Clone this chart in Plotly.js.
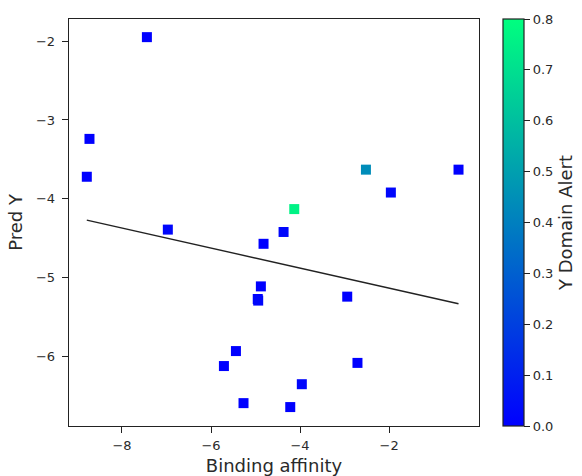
<!DOCTYPE html>
<html>
<head>
<meta charset="utf-8">
<script src="https://cdn.plot.ly/plotly-3.0.1.min.js"></script>
<style>html,body{margin:0;padding:0;background:#fff;}#chart{width:582px;height:476px;}</style>
</head>
<body>
<div id="chart"></div>
<script>
// Data
const bindingAffinity = [-7.44, -8.73, -8.79, -6.97, -4.13, -4.37, -4.82, -4.88, -4.95, -4.94, -5.44, -5.71, -5.27, -4.22, -3.96, -2.94, -2.71, -2.52, -1.96, -0.44];
const predY = [-1.95, -3.24, -3.72, -4.39, -4.13, -4.42, -4.57, -5.11, -5.27, -5.29, -5.93, -6.12, -6.59, -6.64, -6.35, -5.24, -6.08, -3.63, -3.92, -3.63];
const domainAlert = [0.0, 0.0, 0.0, 0.02, 0.76, 0.02, 0.0, 0.0, 0.0, 0.02, 0.0, 0.0, 0.0, 0.0, 0.02, 0.0, 0.0, 0.44, 0.02, 0.0];
const fitX = [-8.79, -0.44];
const fitY = [-4.27, -5.33];
const cbTicks = [0.0, 0.1, 0.2, 0.3, 0.4, 0.5, 0.6, 0.7, 0.8];
const cbTickText = ["0.0", "0.1", "0.2", "0.3", "0.4", "0.5", "0.6", "0.7", "0.8"];
const xTicks = [-8, -6, -4, -2];
const yTicks = [-6, -5, -4, -3, -2];

const font = {family: "DejaVu Sans, sans-serif", size: 13, color: "#2a2a2a"};
const labelFont = {family: "DejaVu Sans, sans-serif", size: 18, color: "#2a2a2a"};

const traces = [
  {
    x: fitX, y: fitY, type: "scatter", mode: "lines",
    line: {color: "#222222", width: 1.4}, hoverinfo: "skip", showlegend: false
  },
  {
    x: bindingAffinity, y: predY, type: "scatter", mode: "markers", showlegend: false,
    marker: {
      symbol: "square", size: 10, color: domainAlert,
      cmin: 0, cmax: 0.8,
      colorscale: [[0, "rgb(0,0,255)"], [1, "rgb(0,255,127)"]],
      line: {width: 0},
      colorbar: {
        x: 1.0585, xanchor: "left", xpad: 0,
        y: 0.5, yanchor: "middle", ypad: 0,
        len: 1, lenmode: "fraction",
        thickness: 21, thicknessmode: "pixels",
        outlinewidth: 1.2, outlinecolor: "#222",
        tickmode: "array", tickvals: cbTicks, ticktext: cbTickText,
        ticks: "outside", ticklen: 6, tickwidth: 1, tickcolor: "#222",
        ticklabelstandoff: 6,
        tickfont: font,
        title: {text: "Y Domain Alert", side: "right", font: labelFont}
      }
    }
  }
];

const layout = {
  width: 582, height: 476,
  margin: {l: 69, r: 103, t: 19, b: 50, autoexpand: false},
  paper_bgcolor: "#fff", plot_bgcolor: "#fff",
  font: font,
  xaxis: {
    range: [-9.19, 0.02], tickmode: "array", tickvals: xTicks, ticktext: xTicks.map(v => "−" + Math.abs(v)),
    showgrid: false, zeroline: false, showline: true, mirror: true, linecolor: "#222", linewidth: 1.3,
    ticks: "outside", ticklen: 6, tickcolor: "#222", tickfont: font, ticklabelstandoff: 1,
    title: {text: "Binding affinity", font: labelFont, standoff: 8}
  },
  yaxis: {
    range: [-6.88, -1.72], tickmode: "array", tickvals: yTicks, ticktext: yTicks.map(v => "−" + Math.abs(v)),
    showgrid: false, zeroline: false, showline: true, mirror: true, linecolor: "#222", linewidth: 1.3,
    ticks: "outside", ticklen: 6, tickcolor: "#222", tickfont: font, ticklabelstandoff: 4,
    title: {text: "Pred Y", font: labelFont, standoff: 8}
  }
};

Plotly.newPlot("chart", traces, layout, {staticPlot: true, displayModeBar: false});
</script>
</body>
</html>
